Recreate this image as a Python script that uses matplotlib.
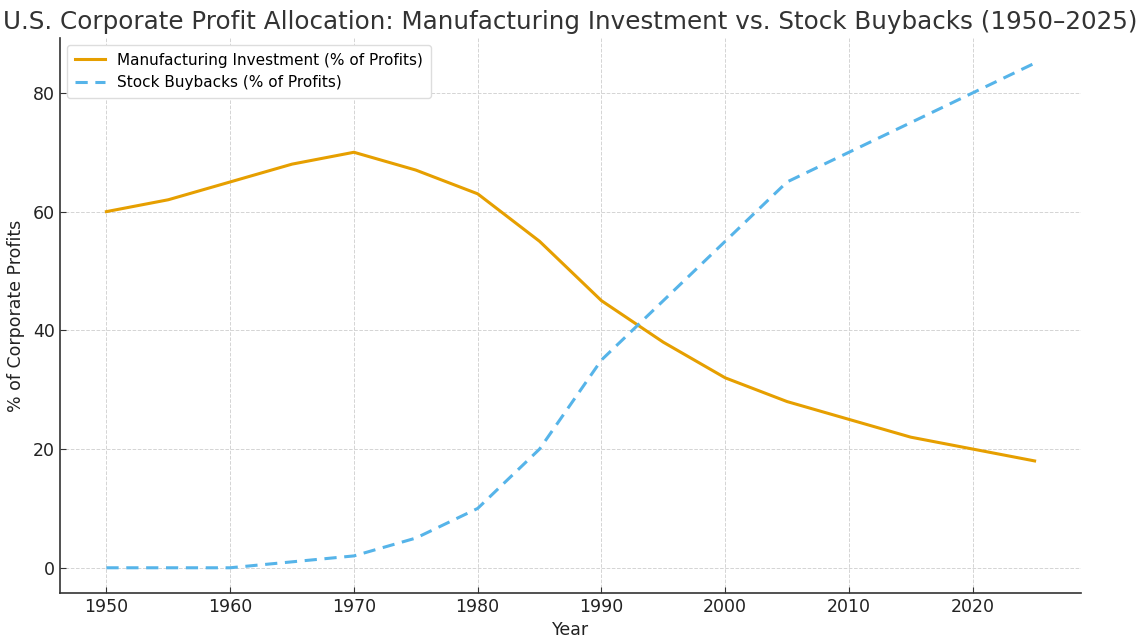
import matplotlib
matplotlib.use("Agg")
import matplotlib.pyplot as plt

years = [1950, 1955, 1960, 1965, 1970, 1975, 1980, 1985, 1990, 1995, 2000, 2005, 2010, 2015, 2020, 2025]
manufacturing = [60, 62, 65, 68, 70, 67, 63, 55, 45, 38, 32, 28, 25, 22, 20, 18]
buybacks = [0, 0, 0, 1, 2, 5, 10, 20, 35, 45, 55, 65, 70, 75, 80, 85]

title = "U.S. Corporate Profit Allocation: Manufacturing Investment vs. Stock Buybacks (1950\u20132025)"

fig = plt.figure(figsize=(11.41, 6.44), dpi=100)
ax = fig.add_axes([60/1141, 1-593/644, (1081-60)/1141, (593-38)/644])

ax.plot(years, manufacturing, color="#E69F00", lw=2.2, label="Manufacturing Investment (% of Profits)")
ax.plot(years, buybacks, color="#56B4E9", lw=2.2, ls=(0, (4, 2.5)), label="Stock Buybacks (% of Profits)")

ax.grid(True, ls="--", color="#d4d4d4", lw=0.7)
ax.set_axisbelow(True)
for s in ["top", "right"]:
    ax.spines[s].set_visible(False)
for s in ["left", "bottom"]:
    ax.spines[s].set_color("#333333")
    ax.spines[s].set_linewidth(1.2)
ax.tick_params(direction="in", length=4, labelsize=12.5, colors="#333333", labelcolor="#222222")
ax.set_xticks([1950, 1960, 1970, 1980, 1990, 2000, 2010, 2020])
ax.set_yticks([0, 20, 40, 60, 80])
ax.set_xlabel("Year", fontsize=12.5, color="#222222", labelpad=4)
ax.set_ylabel("% of Corporate Profits", fontsize=12.5, color="#222222", labelpad=6)
fig.text(570/1141, 1-22/644, title, fontsize=17.7, color="#333333", ha="center", va="center")

leg = ax.legend(loc="upper left", fontsize=11, frameon=True, framealpha=1, edgecolor="#dddddd",
                borderpad=0.5, handlelength=2.0, borderaxespad=0.45)

fig.savefig("out.png", dpi=100)
